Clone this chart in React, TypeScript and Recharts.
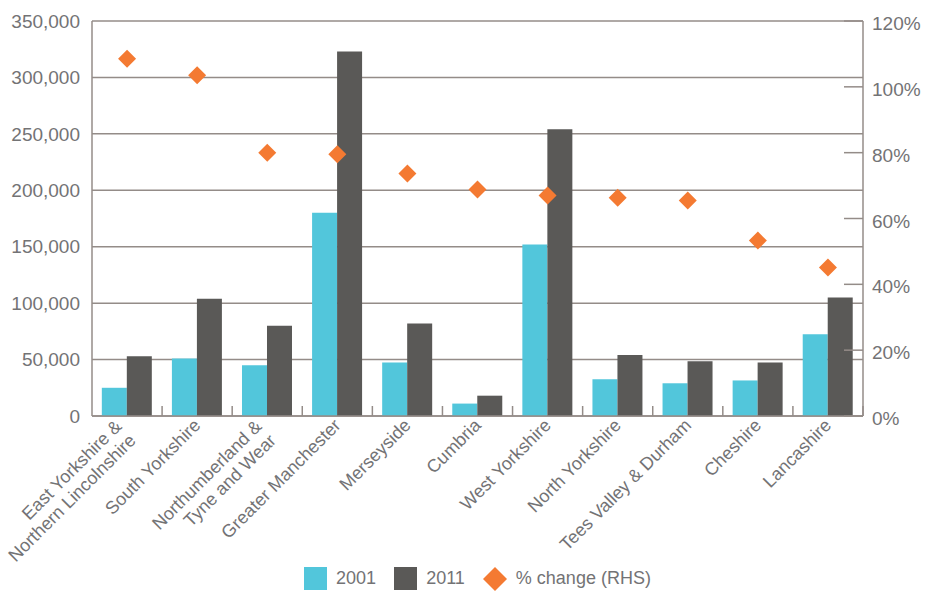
import React from 'react';
import { ComposedChart, Bar, Scatter, XAxis, YAxis, CartesianGrid, Legend } from 'recharts';

const categories = [
  'East Yorkshire &\nNorthern Lincolnshire',
  'South Yorkshire',
  'Northumberland &\nTyne and Wear',
  'Greater Manchester',
  'Merseyside',
  'Cumbria',
  'West Yorkshire',
  'North Yorkshire',
  'Tees Valley & Durham',
  'Cheshire',
  'Lancashire',
];
const values2001 = [25000, 51000, 45000, 180000, 47500, 11000, 152000, 32500, 29000, 31500, 72500];
const values2011 = [53000, 104000, 80000, 323000, 82000, 18000, 254000, 54000, 48500, 47500, 105000];
const pctChange = [1.085, 1.035, 0.8, 0.795, 0.737, 0.688, 0.67, 0.663, 0.655, 0.533, 0.451];
const leftTicks = [0, 50000, 100000, 150000, 200000, 250000, 300000, 350000];
const rightTicks = [0, 0.2, 0.4, 0.6, 0.8, 1.0, 1.2];

const cyan = '#52c6db';
const dark = '#5a5957';
const orange = '#f47a32';
const lineColor = '#948c88';
const textColor = '#737375';
const font = '"Liberation Sans", Arial, sans-serif';

const data = categories.map((name, i) => ({
  name,
  y2001: values2001[i],
  y2011: values2011[i],
  pct: pctChange[i],
}));

function Diamond(props: any) {
  const { cx, cy } = props;
  const r = 9;
  return (
    <polygon
      points={`${cx},${cy - r} ${cx + r},${cy} ${cx},${cy + r} ${cx - r},${cy}`}
      fill={orange}
    />
  );
}

// rotated category label; wrapped labels keep their right ends aligned
function CategoryTick(props: any) {
  const { x, y, payload } = props;
  const lines = String(payload.value).split('\n');
  const multi = lines.length > 1;
  const lh = 20;
  const edge = x + (payload.offset || 0);
  return (
    <g>
      <line x1={edge} y1={y - 10} x2={edge} y2={y} stroke={lineColor} strokeWidth={1.5} />
      <g transform={`translate(${x},${y + 6}) rotate(-45)`}>
        <text textAnchor="end" fill={textColor} fontSize={18} fontFamily={font}>
          {lines.map((l, i) => (
            <tspan key={i} x={multi ? -7 : 0} y={multi ? i * lh - 5.5 : 0} dy="0.35em">
              {l}
            </tspan>
          ))}
        </text>
      </g>
    </g>
  );
}

function RightTick(props: any) {
  const { x, y, payload } = props;
  const axisX = x - 9;
  return (
    <g>
      <line x1={axisX - 19} y1={y} x2={axisX} y2={y} stroke={lineColor} strokeWidth={1.5} />
      <text x={x} y={y + 2.5} dy="0.35em" textAnchor="start" fill={textColor} fontSize={19} fontFamily={font}>
        {`${Math.round(payload.value * 100)}%`}
      </text>
    </g>
  );
}

function LegendContent() {
  const item = { display: 'flex', alignItems: 'center', marginRight: 18 } as const;
  const label = { color: textColor, fontSize: 18, fontFamily: font, marginLeft: 9 } as const;
  return (
    <div style={{ display: 'flex', justifyContent: 'center', alignItems: 'center', height: 29, paddingLeft: 29 }}>
      <div style={item}>
        <div style={{ width: 23, height: 23, background: cyan }} />
        <span style={label}>2001</span>
      </div>
      <div style={item}>
        <div style={{ width: 23, height: 23, background: dark }} />
        <span style={label}>2011</span>
      </div>
      <div style={{ ...item, marginRight: 0 }}>
        <svg width={24} height={24}>
          <polygon points="12,0 24,12 12,24 0,12" fill={orange} />
        </svg>
        <span style={label}>% change (RHS)</span>
      </div>
    </div>
  );
}

export default function App() {
  return (
    <div style={{ position: 'absolute', left: 0, top: 0, width: 926, height: 593, background: '#fff' }}>
      <ComposedChart
        width={926}
        height={593}
        data={data}
        margin={{ top: 21, right: 0, bottom: 0, left: 0 }}
        barGap={0}
        barCategoryGap="14%"
      >
        <CartesianGrid yAxisId="left" vertical={false} stroke={lineColor} strokeWidth={1.5} ticks={leftTicks} />
        <XAxis
          dataKey="name"
          interval={0}
          height={148}
          tickSize={0}
          tickMargin={0}
          tickLine={false}
          axisLine={{ stroke: lineColor, strokeWidth: 1.5 }}
          tick={<CategoryTick />}
        />
        <YAxis
          yAxisId="left"
          width={92}
          domain={[0, 350000]}
          ticks={leftTicks}
          tickSize={0}
          tickMargin={12}
          tickLine={false}
          axisLine={{ stroke: lineColor, strokeWidth: 1.5 }}
          tick={{ fill: textColor, fontSize: 19, fontFamily: font }}
          tickFormatter={(v: number) => v.toLocaleString('en-GB')}
        />
        <YAxis
          yAxisId="right"
          orientation="right"
          width={63}
          domain={[0, 1.2]}
          ticks={rightTicks}
          tickSize={0}
          tickMargin={9}
          tickLine={false}
          axisLine={{ stroke: lineColor, strokeWidth: 1.5 }}
          tick={<RightTick />}
        />
        <Legend verticalAlign="bottom" content={<LegendContent />} />
        <Bar yAxisId="left" dataKey="y2001" name="2001" fill={cyan} isAnimationActive={false} />
        <Bar yAxisId="left" dataKey="y2011" name="2011" fill={dark} isAnimationActive={false} />
        <Scatter yAxisId="right" dataKey="pct" name="% change (RHS)" shape={<Diamond />} isAnimationActive={false} />
      </ComposedChart>
    </div>
  );
}
